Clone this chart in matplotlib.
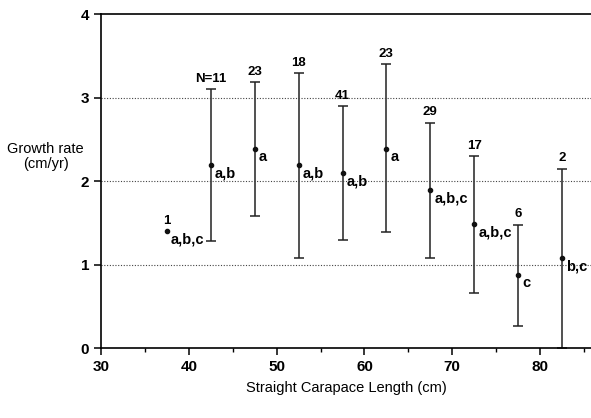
import numpy as np
import matplotlib
matplotlib.use('Agg')
import matplotlib.pyplot as plt

# size classes (midpoints, cm) and growth rates (cm/yr)
scl = [37.5, 42.5, 47.5, 52.5, 57.5, 62.5, 67.5, 72.5, 77.5, 82.5]
mean_rate = [1.40, 2.19, 2.39, 2.19, 2.10, 2.39, 1.89, 1.49, 0.88, 1.08]
upper = [np.nan, 3.10, 3.19, 3.29, 2.90, 3.40, 2.70, 2.30, 1.48, 2.15]
lower = [np.nan, 1.28, 1.58, 1.08, 1.29, 1.39, 1.08, 0.66, 0.27, 0.0]
n_labels = ['1', 'N=11', '23', '18', '41', '23', '29', '17', '6', '2']
groups = ['a,b,c', 'a,b', 'a', 'a,b', 'a,b', 'a', 'a,b,c', 'a,b,c', 'c', 'b,c']

plt.rcParams['font.family'] = ['Liberation Sans', 'DejaVu Sans']

fig = plt.figure(figsize=(5.91, 4.18), dpi=100)
ax = fig.add_axes([0.171, 0.167, 0.829, 0.7995])

x = np.array(scl)
m = np.array(mean_rate)
up = np.array(upper)
lo = np.array(lower)
has_bar = ~np.isnan(up)

ax.errorbar(x[has_bar], m[has_bar],
            yerr=[m[has_bar] - lo[has_bar], up[has_bar] - m[has_bar]],
            fmt='none', ecolor='#222222', elinewidth=1.1, capsize=3.5, capthick=1.1)
ax.plot(x, m, 'o', color='#111111', markersize=3)

for i in range(len(x)):
    top = up[i] if has_bar[i] else m[i]
    ax.annotate(n_labels[i], (x[i], top), xytext=(0, 3), textcoords='offset points',
                ha='center', va='bottom', fontsize=9.5, fontweight='bold')
    ax.annotate(groups[i], (x[i], m[i]), xytext=(3, -6), textcoords='offset points',
                ha='left', va='center', fontsize=10.5, fontweight='bold')

for yv in [1, 2, 3]:
    ax.axhline(yv, color='#444444', linestyle=(0, (1, 1.5)), linewidth=0.8)

ax.set_xlim(30, 85.8)
ax.set_ylim(0, 4)
ax.set_xticks([30, 40, 50, 60, 70, 80])
ax.set_xticks([35, 45, 55, 65, 75, 85], minor=True)
ax.set_yticks([0, 1, 2, 3, 4])
ax.spines['right'].set_visible(False)
for s in ['left', 'bottom', 'top']:
    ax.spines[s].set_linewidth(1.2)
ax.tick_params(axis='both', which='major', length=5, width=1.1, labelsize=11)
ax.tick_params(axis='x', which='minor', length=3, width=1)
for lab in ax.get_xticklabels() + ax.get_yticklabels():
    lab.set_fontweight('bold')

fig.text(0.077, 0.625, 'Growth rate\n(cm/yr)', ha='center', va='center', fontsize=10.5,
         linespacing=1.1)
ax.set_xlabel('Straight Carapace Length (cm)', fontsize=10.5, labelpad=5)

fig.savefig('out.png', dpi=100)
